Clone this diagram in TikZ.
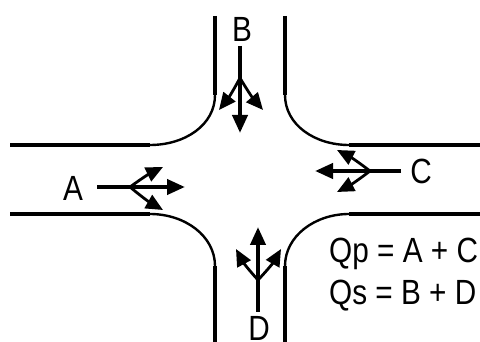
\documentclass[tikz,border=0pt]{standalone}
\usepackage{fontspec}
\setmainfont[FakeStretch=0.85]{Liberation Sans}
\usetikzlibrary{arrows.meta}

\begin{document}
\begin{tikzpicture}[
  x=1pt,y=-1pt,
  curb/.style={line width=4pt,black},
  corner/.style={line width=2.4pt,black},
  mainflow/.style={-{Triangle[length=18pt,width=15pt]},line width=4pt,black},
  turnflow/.style={-{Triangle[length=17pt,width=15pt]},line width=2.8pt,black},
  lbl/.style={font=\fontsize{35}{35}\selectfont,inner sep=0pt,text=black}
]
  \useasboundingbox (0,0) rectangle (480,342);

  % kerbs, top left then clockwise
  \draw[curb] (215,16) -- (215,95);
  \draw[corner] (215,95) .. controls (215,125) and (185,145) .. (150,145);
  \draw[curb] (150,145) -- (10,145);
  \draw[curb] (285,16) -- (285,95);
  \draw[corner] (285,95) .. controls (285,125) and (315,145) .. (349,145);
  \draw[curb] (349,145) -- (480,145);
  \draw[curb] (10,214) -- (150,214);
  \draw[corner] (150,214) .. controls (185,214) and (215,236) .. (215,266);
  \draw[curb] (215,266) -- (215,342);
  \draw[curb] (285,342) -- (285,266);
  \draw[corner] (285,266) .. controls (285,236) and (315,214) .. (349,214);
  \draw[curb] (349,214) -- (480,214);

  % flows
  \node[lbl] (A) at (73,188) {A};
  \node[lbl] (B) at (242,29) {B};
  \node[lbl] (C) at (421,171) {C};
  \node[lbl] (D) at (259,328) {D};

  \coordinate (Astart) at (97,187);
  \coordinate (Aend) at (185,187);
  \coordinate (Afork) at (130,187);
  \coordinate (Aleft) at (163,167);
  \coordinate (Aright) at (163,210);
  \draw[mainflow] (Astart) -- (Aend);
  \draw[turnflow] (Afork) to[bend left=5] (Aleft);
  \draw[turnflow] (Afork) to[bend right=5] (Aright);

  \coordinate (Bstart) at (240,46);
  \coordinate (Bend) at (240,133);
  \coordinate (Bfork) at (240,78);
  \coordinate (Bleft) at (219,110);
  \coordinate (Bright) at (263,110);
  \draw[mainflow] (Bstart) -- (Bend);
  \draw[turnflow] (Bfork) to[bend left=5] (Bleft);
  \draw[turnflow] (Bfork) to[bend right=5] (Bright);

  \coordinate (Cstart) at (401,171);
  \coordinate (Cend) at (315,171);
  \coordinate (Cfork) at (370,171);
  \coordinate (Cleft) at (337,150);
  \coordinate (Cright) at (337,192);
  \draw[mainflow] (Cstart) -- (Cend);
  \draw[turnflow] (Cfork) to[bend right=5] (Cleft);
  \draw[turnflow] (Cfork) to[bend left=5] (Cright);

  \coordinate (Dstart) at (258,312);
  \coordinate (Dend) at (258,227);
  \coordinate (Dfork) at (258,280);
  \coordinate (Dleft) at (236,249);
  \coordinate (Dright) at (281,249);
  \draw[mainflow] (Dstart) -- (Dend);
  \draw[turnflow] (Dfork) to[bend left=7] (Dleft);
  \draw[turnflow] (Dfork) to[bend right=7] (Dright);

  \node[lbl,anchor=west] (qp) at (329,254) {Qp = A + C};
  \node[lbl,anchor=west] (qs) at (329,296) {Qs = B + D};
\end{tikzpicture}
\end{document}
